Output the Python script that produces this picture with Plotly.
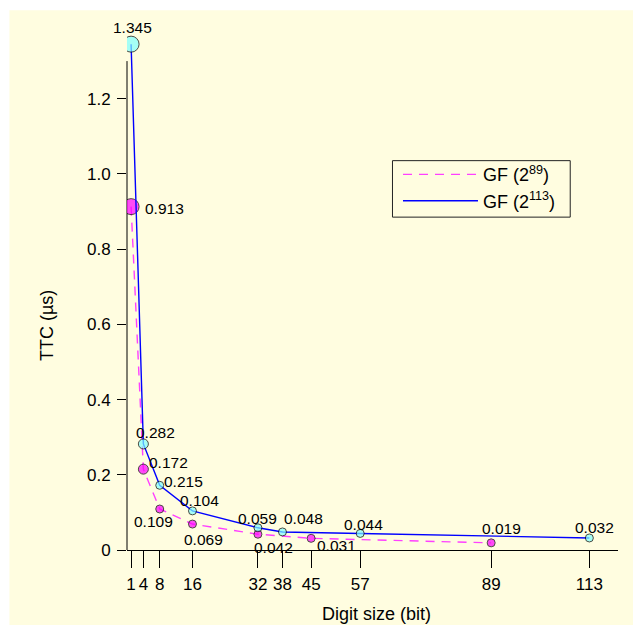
import plotly.graph_objects as go

# ---- data ----
x_gf89 = [1, 4, 8, 16, 32, 45, 89]
y_gf89 = [0.913, 0.215, 0.109, 0.069, 0.042, 0.031, 0.019]
lab_gf89 = ["0.913", "0.172", "0.109", "0.069", "0.042", "0.031", "0.019"]

x_gf113 = [1, 4, 8, 16, 32, 38, 57, 113]
y_gf113 = [1.345, 0.282, 0.172, 0.104, 0.059, 0.048, 0.044, 0.032]
lab_gf113 = ["1.345", "0.282", "0.215", "0.104", "0.059", "0.048", "0.044", "0.032"]

x_ticks = [1, 4, 8, 16, 32, 38, 45, 57, 89, 113]
y_ticks = [0, 0.2, 0.4, 0.6, 0.8, 1.0, 1.2]
y_tick_text = ["0", "0.2", "0.4", "0.6", "0.8", "1.0", "1.2"]
y_long_ticks = [0, 0.2, 0.4, 0.8, 1.2]
y_axis_top = 1.30

name_gf89 = "GF (2<sup>89</sup>)"
name_gf113 = "GF (2<sup>113</sup>)"

# ---- styles ----
FONT = "Liberation Sans, Arial, sans-serif"
BG = "#FFFDE0"
size_gf89 = [16, 10, 8, 8, 8, 8, 8]
size_gf113 = [16, 10, 8, 8, 8, 8, 8, 8]
shift_gf89 = [(33, -2), (25, 7), (-6, -12), (11, -15), (16, -13), (25, -7), (10, 14)]
shift_gf113 = [(1.5, 16.5), (12, 11), (24, 4), (7, 10), (0, 9), (21, 13), (3, 9), (5, 10)]

fig = go.Figure()

fig.add_trace(go.Scatter(
    x=x_gf89, y=y_gf89, mode="lines", name=name_gf89,
    line=dict(color="#FF40FF", width=1.4, dash="9px,7px")))
fig.add_trace(go.Scatter(
    x=x_gf89, y=y_gf89, mode="markers", showlegend=False,
    marker=dict(color="#FF00FF", size=size_gf89, line=dict(color="black", width=1))))
fig.add_trace(go.Scatter(
    x=x_gf113, y=y_gf113, mode="lines", name=name_gf113,
    line=dict(color="#0000FF", width=1.4)))
fig.add_trace(go.Scatter(
    x=x_gf113, y=y_gf113, mode="markers", showlegend=False,
    marker=dict(color="#80FFFF", size=size_gf113, line=dict(color="black", width=1))))

annotations = []
for xs, ys, labs, shifts in [(x_gf89, y_gf89, lab_gf89, shift_gf89),
                             (x_gf113, y_gf113, lab_gf113, shift_gf113)]:
    for xv, yv, t, (dx, dy) in zip(xs, ys, labs, shifts):
        annotations.append(dict(x=xv, y=yv, xref="x", yref="y", text=t, showarrow=False,
                                xshift=dx, yshift=dy, xanchor="center", yanchor="middle",
                                font=dict(family=FONT, size=15.5, color="black")))

# page is offset by the 8px body margin
W, H = 633, 617
L, R, T, B = 119.4, 23.3, 22.8, 75
pw, ph = W - L - R, H - T - B

def px(xp):
    return (xp - L) / pw

def py(yp):
    return (H - B - yp) / ph

annotations.append(dict(xref="paper", yref="paper", x=px(39), y=py(317.5), text="TTC (µs)",
                        textangle=-90, showarrow=False, xanchor="center", yanchor="middle",
                        font=dict(family=FONT, size=18, color="black")))
annotations.append(dict(xref="paper", yref="paper", x=px(369), y=py(606), text="Digit size (bit)",
                        showarrow=False, xanchor="center", yanchor="middle",
                        font=dict(family=FONT, size=18, color="black")))

shapes = [
    dict(type="rect", xref="paper", yref="paper", x0=px(-5), x1=px(2), y0=py(H + 5), y1=py(-5),
         fillcolor="white", line=dict(width=0), layer="below"),
    dict(type="rect", xref="paper", yref="paper", x0=px(-5), x1=px(W + 5), y0=py(2), y1=py(-5),
         fillcolor="white", line=dict(width=0), layer="below"),
    # left axis line, only up to 1.30 like the reference
    dict(type="line", xref="paper", yref="y", x0=0, x1=0, y0=0, y1=y_axis_top,
         line=dict(color="black", width=1), layer="below"),
    # legend frame
    dict(type="rect", xref="paper", yref="paper", x0=px(384.5), x1=px(562), y0=py(209),
         y1=py(152.5), line=dict(color="#222222", width=1), fillcolor="rgba(0,0,0,0)"),
]

fig.update_layout(
    width=W, height=H,
    margin=dict(l=L, r=R, t=T, b=B, pad=0),
    paper_bgcolor=BG, plot_bgcolor=BG,
    font=dict(family=FONT, size=17, color="black"),
    showlegend=True,
    legend=dict(x=px(390), y=py(148), xanchor="left", yanchor="top",
                borderwidth=0, bgcolor="rgba(0,0,0,0)",
                font=dict(family=FONT, size=18, color="black"), itemwidth=75,
                tracegroupgap=0),
    xaxis=dict(range=[0, 120], tickmode="array", tickvals=x_ticks,
               ticktext=[str(v) for v in x_ticks], ticks="outside", ticklen=17,
               tickwidth=1, tickcolor="black", showline=True, linecolor="black",
               linewidth=1, showgrid=False, zeroline=False, ticklabelstandoff=2,
               tickfont=dict(family=FONT, size=17, color="black")),
    yaxis=dict(range=[0, 1.38], tickmode="array", tickvals=y_ticks, ticktext=y_tick_text,
               ticks="outside", ticklen=9, tickwidth=1, tickcolor="black",
               showline=False, showgrid=False,
               zeroline=False, ticklabelstandoff=3,
               tickfont=dict(family=FONT, size=17, color="black")),
    yaxis2=dict(range=[0, 1.38], overlaying="y", anchor="x", side="left",
                tickmode="array", tickvals=y_long_ticks, ticks="outside", ticklen=17,
                tickwidth=1, tickcolor="black", showticklabels=False, showline=False,
                showgrid=False, zeroline=False),
    annotations=annotations,
    shapes=shapes,
)

fig.write_html("out.html")
